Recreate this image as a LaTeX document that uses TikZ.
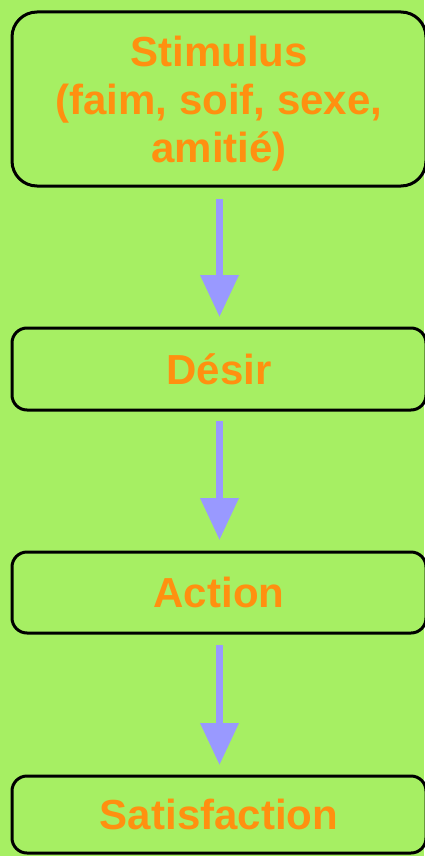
\documentclass[tikz,border=0pt]{standalone}
\usepackage{fontspec}
\setmainfont{Liberation Sans}
\usetikzlibrary{arrows.meta}
\definecolor{bggreen}{HTML}{A6EF63}
\definecolor{txtorange}{HTML}{FF9010}
\definecolor{arrowblue}{HTML}{9999FF}
\begin{document}
\begin{tikzpicture}[x=1pt,y=-1pt,
  stagebox/.style={draw=black, line width=3pt, fill=bggreen, rounded corners=15pt,
    minimum width=414pt, inner sep=0pt, align=center,
    font=\fontsize{42}{48}\selectfont\bfseries, text=txtorange},
  flowarrow/.style={draw=arrowblue, line width=7pt,
    -{Triangle[length=42pt,width=37pt]}}]
  \fill[bggreen] (0,0) rectangle (424,856);
  \useasboundingbox (0,0) rectangle (424,856);

  \node[stagebox, rounded corners=25pt, minimum height=174pt] (stim) at (219,99)
    {\rule{0pt}{40pt}Stimulus\\(faim, soif, sexe,\\amitié)};
  \node[stagebox, minimum height=82pt] (desir) at (219,369) {Désir};
  \node[stagebox, minimum height=81pt] (action) at (219,592.5) {Action};
  \node[stagebox, minimum height=77pt] (satis) at (219,814.5) {Satisfaction};

  \coordinate (a1s) at (219.5,199);  \coordinate (a1e) at (219.5,317);
  \coordinate (a2s) at (219.5,421);  \coordinate (a2e) at (219.5,540);
  \coordinate (a3s) at (219.5,645);  \coordinate (a3e) at (219.5,765);
  \draw[flowarrow] (a1s) -- (a1e);
  \draw[flowarrow] (a2s) -- (a2e);
  \draw[flowarrow] (a3s) -- (a3e);
\end{tikzpicture}
\end{document}
